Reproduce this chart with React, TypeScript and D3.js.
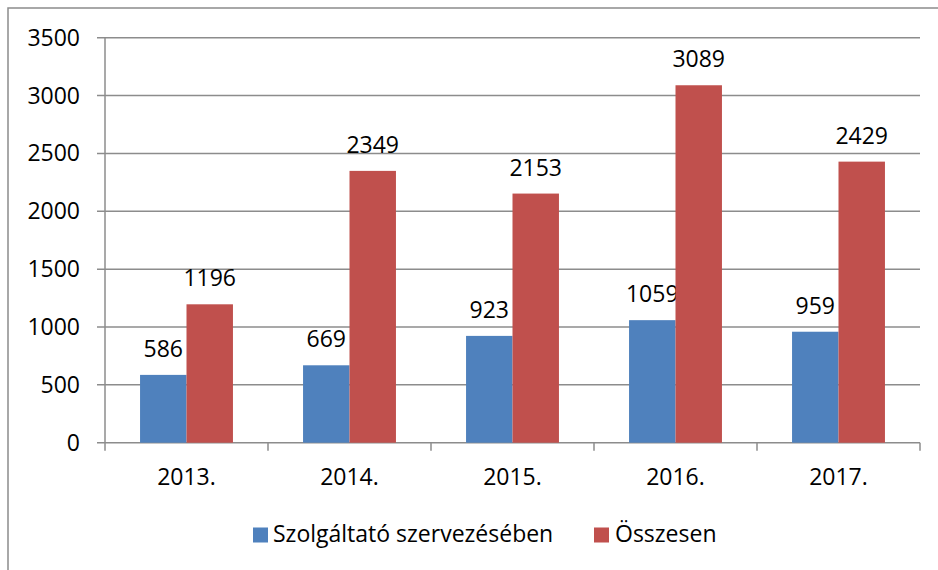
import React from "react";
import * as d3 from "d3";

const categories = ["2013.", "2014.", "2015.", "2016.", "2017."];
const seriesNames = ["Szolgáltató szervezésében", "Összesen"];
const serviceValues = [586, 669, 923, 1059, 959];
const totalValues = [1196, 2349, 2153, 3089, 2429];
const yTicks = [0, 500, 1000, 1500, 2000, 2500, 3000, 3500];
const colors = ["#4F81BD", "#C0504D"];

const W = 938;
const H = 570;
const left = 105;
const right = 920;
const top = 37.7;
const bottom = 442.7;
const FONT = "'Open Sans', 'Noto Sans', sans-serif";
const FS = 23;
const GRID = "#8c8c8c";

export default function App() {
  const x = d3.scaleBand<string>().domain(categories).range([left, right]).paddingInner(0).paddingOuter(0);
  const y = d3.scaleLinear().domain([0, 3500]).range([bottom, top]);
  const band = x.bandwidth();
  const barW = band * 0.285;
  const series = [serviceValues, totalValues];

  return (
    <div style={{ position: "absolute", left: 0, top: 0 }}>
      <svg width={W} height={H} style={{ display: "block", background: "#fff" }}>
        <rect x={8} y={8} width={W + 10} height={H + 10} fill="#fff" stroke={GRID} strokeWidth={1.5} />
        {yTicks.map((t) => (
          <g key={t}>
            <line x1={left - 8} x2={right} y1={y(t)} y2={y(t)} stroke={GRID} strokeWidth={1.5} />
            <text x={80} y={y(t)} dy="0.35em" textAnchor="end" fontFamily={FONT} fontSize={FS} fill="#000">
              {t}
            </text>
          </g>
        ))}
        <line x1={left} x2={left} y1={top} y2={bottom + 8} stroke={GRID} strokeWidth={1.5} />
        {categories.map((c, i) => (
          <line key={"t" + i} x1={(x(c) as number) + band} x2={(x(c) as number) + band} y1={bottom} y2={bottom + 8} stroke={GRID} strokeWidth={1.5} />
        ))}
        {categories.map((c, i) => {
          const cx = (x(c) as number) + band / 2;
          return (
            <g key={c}>
              {series.map((vals, s) => {
                const bx = cx - barW + s * barW;
                const by = y(vals[i]);
                return (
                  <g key={s}>
                    <rect x={bx} y={by} width={barW} height={bottom - by} fill={colors[s]} />
                    <text x={bx + barW / 2} y={by - 18} textAnchor="middle" fontFamily={FONT} fontSize={FS} fill="#000">
                      {vals[i]}
                    </text>
                  </g>
                );
              })}
              <text x={cx} y={485} textAnchor="middle" fontFamily={FONT} fontSize={FS} fill="#000">
                {c}
              </text>
            </g>
          );
        })}
        <rect x={253} y={527.5} width={15} height={15} fill={colors[0]} />
        <text x={273} y={542} fontFamily={FONT} fontSize={FS} fill="#000">{seriesNames[0]}</text>
        <rect x={594} y={527.5} width={15} height={15} fill={colors[1]} />
        <text x={615} y={542} fontFamily={FONT} fontSize={FS} fill="#000">{seriesNames[1]}</text>
      </svg>
    </div>
  );
}
